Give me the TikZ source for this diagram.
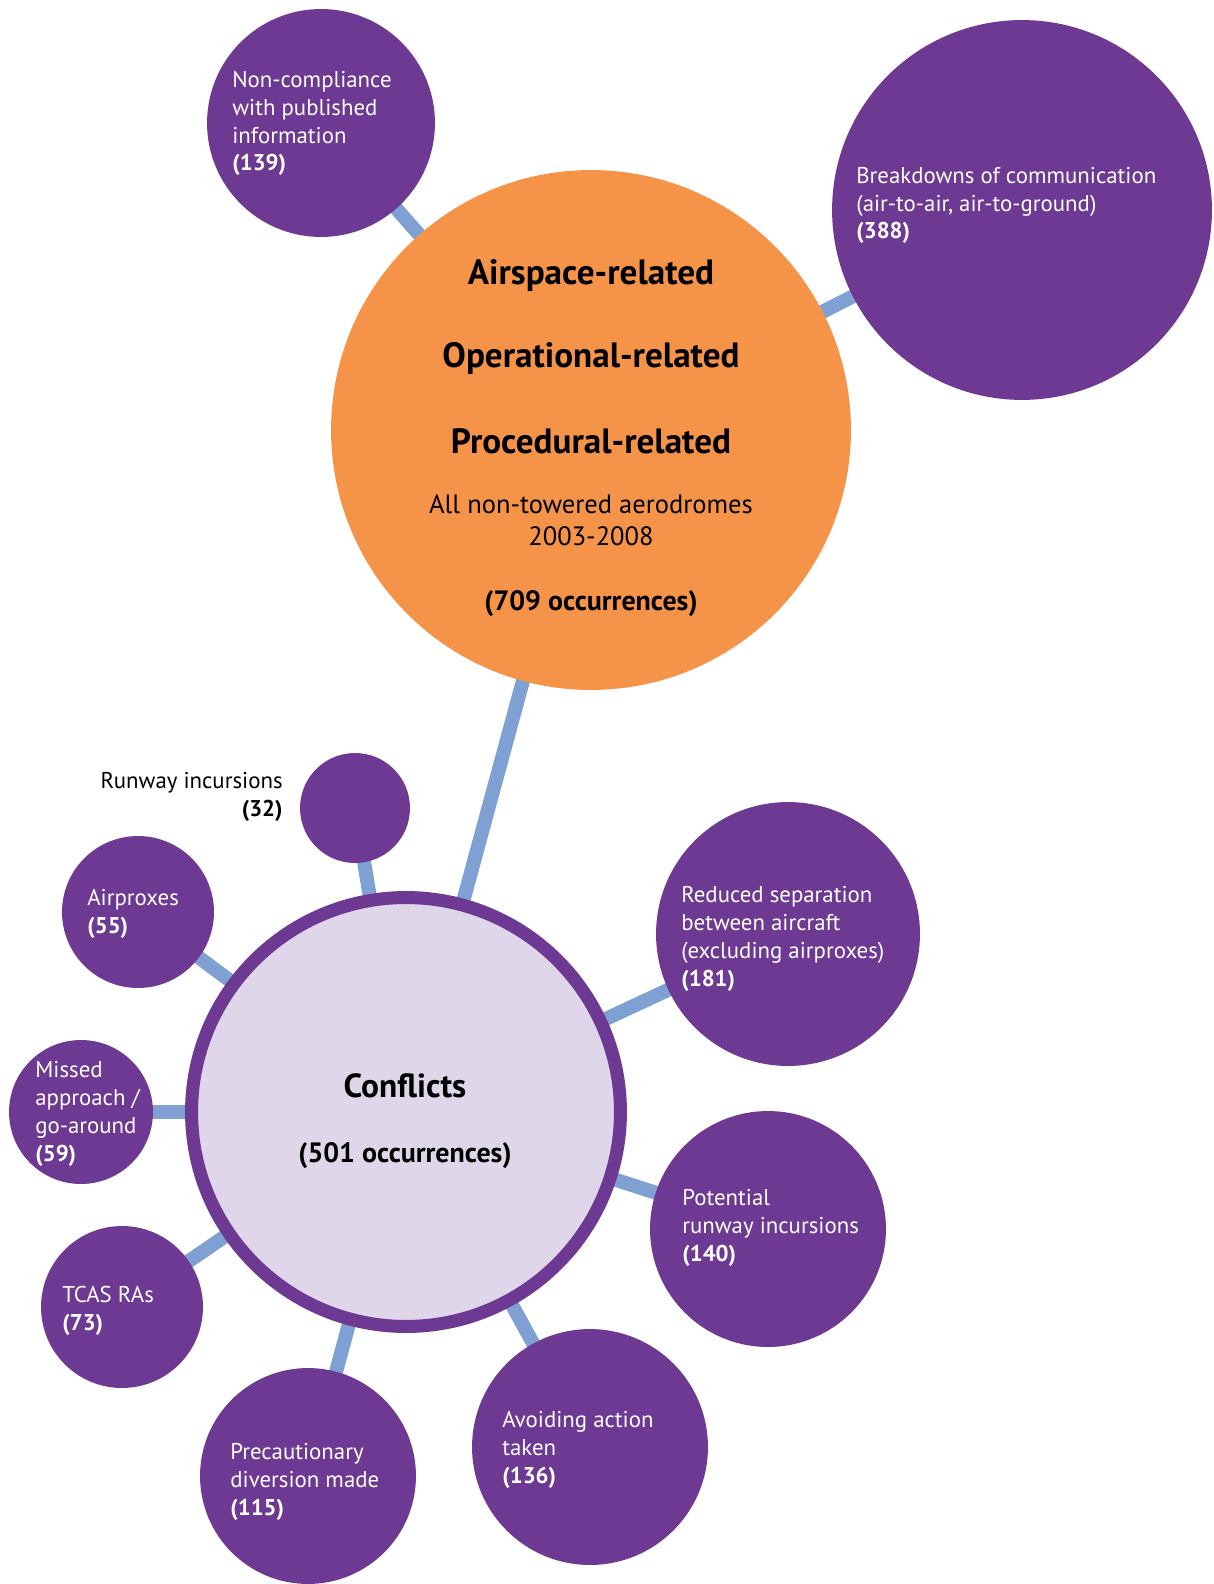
\documentclass[tikz,border=0pt]{standalone}
\usepackage{fontspec}
\setmainfont{PT Sans}
\usepackage{xcolor}
\usepackage{tikz}
\usetikzlibrary{backgrounds}

\definecolor{bubble}{RGB}{110,57,146}
\definecolor{hubfill}{RGB}{245,148,73}
\definecolor{lilac}{RGB}{223,214,234}
\definecolor{linkblue}{RGB}{127,160,211}

\tikzset{
  sat/.style={circle, fill=bubble, inner sep=0pt, minimum size=#1*0.04cm},
  stxt/.style={anchor=base west, align=left, inner sep=0pt, text=white,
    font=\fontsize{13}{15.9}\selectfont},
  spoke/.style={draw=linkblue, line width=0.28cm},
  headtxt/.style={anchor=base, inner sep=0pt, font=\bfseries\fontsize{20}{24}\selectfont},
  counttxt/.style={anchor=base, inner sep=0pt, font=\bfseries\fontsize{15.9}{19}\selectfont},
}

\begin{document}
\begin{tikzpicture}[x=0.02cm, y=-0.02cm]
        \useasboundingbox (0,0) rectangle (1213,1584);

        % main circles
        \node[circle, fill=hubfill, inner sep=0pt, minimum size=10.4cm] (hub) at (591, 430) {};
        \node[circle, fill=lilac, draw=bubble, line width=0.26cm,
              inner sep=0pt, minimum size=8.58cm] (conf) at (406,1112) {};

        % top satellites
        \node[sat=114] (noncomp) at ( 321, 123) {};
        \node[sat=190] (comms)   at (1022, 210) {};

        % conflict satellites
        \node[sat=55]  (rwy)    at (355, 808) {};
        \node[sat=76]  (prox)   at (138, 912) {};
        \node[sat=72]  (missed) at ( 81,1112) {};
        \node[sat=81]  (tcas)   at (122,1307) {};
        \node[sat=108] (divert) at (308,1476) {};
        \node[sat=118] (avoid)  at (590,1447) {};
        \node[sat=118] (potrwy) at (768,1229) {};
        \node[sat=132] (sep)    at (788, 934) {};

        % spokes
        \begin{pgfonlayer}{background}
        \draw[spoke] (hub.center) -- (noncomp.center); % Top left
        \draw[spoke] (hub.center) -- (comms.center);   % Top right
        \draw[spoke] (hub.center) -- (conf.center);    % Hub to conflicts
        \draw[spoke] (conf.center) -- (rwy.center);
        \draw[spoke] (conf.center) -- (prox.center);
        \draw[spoke] (conf.center) -- (missed.center);
        \draw[spoke] (conf.center) -- (tcas.center);
        \draw[spoke] (conf.center) -- (divert.center);
        \draw[spoke] (conf.center) -- (avoid.center);
        \draw[spoke] (conf.center) -- (potrwy.center);
        \draw[spoke] (conf.center) -- (sep.center);
        \end{pgfonlayer}

        % hub text
        \node[headtxt] (hubA) at (591, 285) {Airspace-related};
        \node[headtxt] (hubO) at (591, 368) {Operational-related};
        \node[headtxt] (hubP) at (591, 453) {Procedural-related};
        \node[anchor=base, inner sep=0pt, align=center, font=\fontsize{15.1}{18}\selectfont]
             (hubAll) at (591, 545) {All non-towered aerodromes\\2003-2008};
        \node[counttxt] (hubN) at (591, 610) {(709 occurrences)};

        % conflicts text
        \node[anchor=base, inner sep=0pt, font=\bfseries\fontsize{19}{23}\selectfont]
             (confT) at (405,1097) {Conflicts};
        \node[counttxt] (confN) at (405,1162) {(501 occurrences)};

        % satellite labels (base = last line)
        \node[stxt] (noncompT) at (232, 171) {Non-compliance\\with published\\information\\\textbf{(139)}};
        \node[stxt] (commsT)   at (856, 239) {Breakdowns of communication\\(air-to-air, air-to-ground)\\\textbf{(388)}};
        \node[stxt, text=black, anchor=base east, align=right]
                    (rwyT)     at (283, 816) {Runway incursions\\\textbf{(32)}};
        \node[stxt] (proxT)    at ( 87, 933) {Airproxes\\\textbf{(55)}};
        \node[stxt] (missedT)  at ( 35,1161) {Missed\\approach /\\go-around\\\textbf{(59)}};
        \node[stxt] (tcasT)    at ( 62,1330) {TCAS RAs\\\textbf{(73)}};
        \node[stxt] (divertT)  at (230,1515) {Precautionary\\diversion made\\\textbf{(115)}};
        \node[stxt] (avoidT)   at (502,1483) {Avoiding action\\taken\\\textbf{(136)}};
        \node[stxt] (potrwyT)  at (682,1261) {Potential\\runway incursions\\\textbf{(140)}};
        \node[stxt] (sepT)     at (681, 986) {Reduced separation\\between aircraft\\(excluding airproxes)\\\textbf{(181)}};
\end{tikzpicture}
\end{document}
